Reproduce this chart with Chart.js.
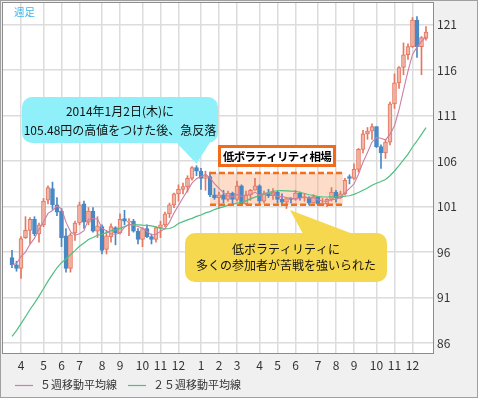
<!DOCTYPE html>
<html>
<head>
<meta charset="utf-8">
<script src="https://cdn.jsdelivr.net/npm/chart.js@4"></script>
<style>
html,body{margin:0;padding:0;background:#f0f0f0;}
</style>
</head>
<body>
<canvas id="cht" width="478" height="398"></canvas>
<script>
// weekly USD/JPY, week start dates (Mon)
const weeks=[
'2013-03-04','2013-03-11','2013-03-18','2013-03-25','2013-04-01','2013-04-08','2013-04-15','2013-04-22','2013-04-29','2013-05-06',
'2013-05-13','2013-05-20','2013-05-27','2013-06-03','2013-06-10','2013-06-17','2013-06-24','2013-07-01','2013-07-08','2013-07-15',
'2013-07-22','2013-07-29','2013-08-05','2013-08-12','2013-08-19','2013-08-26','2013-09-02','2013-09-09','2013-09-16','2013-09-23',
'2013-09-30','2013-10-07','2013-10-14','2013-10-21','2013-10-28','2013-11-04','2013-11-11','2013-11-18','2013-11-25','2013-12-02',
'2013-12-09','2013-12-16','2013-12-23','2013-12-30','2014-01-06','2014-01-13','2014-01-20','2014-01-27','2014-02-03','2014-02-10',
'2014-02-17','2014-02-24','2014-03-03','2014-03-10','2014-03-17','2014-03-24','2014-03-31','2014-04-07','2014-04-14','2014-04-21',
'2014-04-28','2014-05-05','2014-05-12','2014-05-19','2014-05-26','2014-06-02','2014-06-09','2014-06-16','2014-06-23','2014-06-30',
'2014-07-07','2014-07-14','2014-07-21','2014-07-28','2014-08-04','2014-08-11','2014-08-18','2014-08-25','2014-09-01','2014-09-08',
'2014-09-15','2014-09-22','2014-09-29','2014-10-06','2014-10-13','2014-10-20','2014-10-27','2014-11-03','2014-11-10','2014-11-17',
'2014-11-24','2014-12-01','2014-12-08','2014-12-15','2014-12-22','2014-12-29'];

const openV=[null,null,
95.4,94.6,94.2,97.6,98.4,99.6,98.0,99.0,101.7,103.0,
101.2,100.5,97.8,94.2,98.1,99.2,101.3,99.3,100.5,98.3,
98.8,96.3,97.7,98.7,98.1,99.7,99.3,99.4,98.3,97.4,
98.6,97.7,97.4,98.7,99.0,100.2,101.2,102.4,102.9,103.2,
104.1,105.3,104.9,104.1,104.3,102.3,102.0,102.3,101.8,102.5,
101.8,103.3,101.3,102.3,102.8,103.3,101.6,102.4,102.2,102.6,
101.8,101.5,101.9,101.8,102.5,102.0,102.0,101.4,102.1,101.25,
101.3,101.8,102.6,102.0,102.4,104.3,104.1,105.1,107.3,109.0,
109.3,109.8,107.6,106.9,108.1,112.3,114.6,116.3,117.7,118.6,
121.5,118.6,119.5,null];
const highV=[null,null,
96.2,95.0,97.7,99.9,99.8,99.9,99.2,101.9,103.3,103.7,
102.0,100.8,98.6,98.1,99.4,101.5,101.6,100.9,100.9,99.9,
99.0,98.4,99.1,98.8,100.2,100.6,99.7,99.6,98.6,98.7,
99.0,98.0,98.8,99.4,100.4,101.4,102.5,103.4,103.6,104.4,
105.4,105.5,105.2,104.9,104.8,103.0,102.6,102.8,102.7,102.6,
103.8,103.4,102.7,102.9,104.1,103.4,102.7,102.9,103.0,102.7,
102.4,101.9,102.0,102.8,102.6,102.4,102.1,102.3,102.1,101.9,
101.9,103.1,102.8,102.7,104.1,104.5,105.7,107.4,109.4,109.7,
110.1,109.8,107.8,108.4,112.5,115.6,116.4,119.0,118.9,121.8,
121.9,119.7,120.8,null];
const lowV=[null,null,
94.3,93.9,93.1,97.5,96.9,97.8,97.1,98.8,101.3,100.7,
100.0,96.6,93.8,93.8,97.3,99.0,98.6,99.0,98.2,97.6,
95.8,95.8,97.1,96.8,98.0,99.0,97.8,98.2,96.9,96.6,
97.6,96.9,97.1,97.6,98.8,99.8,100.9,101.6,102.4,102.6,
103.9,104.4,102.9,102.8,102.1,101.8,100.8,101.4,101.6,101.2,
101.6,101.2,101.2,101.7,102.8,101.3,101.4,102.0,101.8,101.4,
101.1,100.8,101.4,101.7,101.7,101.6,101.2,101.4,101.1,101.1,
101.0,101.6,101.5,101.9,102.3,103.5,104.0,104.8,106.9,108.4,
108.4,107.5,105.2,106.3,107.8,111.8,114.0,115.5,117.2,118.5,
117.4,115.5,119.3,null];
const closeV=[null,null,
94.6,94.2,97.5,98.4,99.6,98.0,99.0,101.6,103.1,101.2,
100.4,97.6,94.2,97.9,99.2,101.2,99.3,100.5,98.3,98.9,
96.2,97.8,98.8,98.1,99.6,99.4,99.4,98.3,97.4,98.6,
97.7,97.4,98.7,99.0,100.2,101.2,102.4,102.9,103.2,104.1,
105.3,104.9,104.1,104.3,102.3,102.0,102.3,101.8,102.5,101.8,
103.3,101.3,102.3,102.8,103.3,101.6,102.4,102.2,102.6,101.8,
101.5,101.9,101.8,102.5,102.0,102.0,101.4,102.1,101.3,101.3,
101.8,102.6,102.0,102.4,103.9,104.1,105.1,107.3,109.0,109.3,
109.8,107.6,106.9,108.1,112.3,114.6,116.3,117.7,118.6,121.5,
118.6,119.6,120.2,null];
const ma5=[null,null,
94.58,94.74,95.52,96.00,96.86,97.54,98.50,99.32,100.26,100.58,
101.06,100.78,99.30,98.26,97.86,98.02,98.36,99.62,99.70,99.64,
98.64,98.34,98.00,97.96,98.10,98.74,99.06,98.96,98.82,98.62,
98.28,97.88,97.96,98.28,98.60,99.30,100.30,101.14,101.98,102.76,
103.58,104.08,104.32,104.54,104.18,103.52,103.00,102.54,102.18,102.08,
102.34,102.14,102.24,102.30,102.60,102.26,102.48,102.46,102.42,102.12,
102.10,102.00,101.92,101.90,101.94,102.04,101.94,102.00,101.76,101.62,
101.58,101.82,101.80,102.02,102.54,103.00,103.50,104.56,105.88,106.96,
108.10,108.60,108.52,108.34,108.94,109.90,111.64,113.80,115.90,117.74,
118.54,119.18,119.68,null];
const ma25=[null,null,
86.75,87.37,88.14,88.90,89.69,90.39,91.17,91.98,92.81,93.56,
94.28,94.84,95.24,95.72,96.16,96.64,97.01,97.39,97.61,97.86,
97.97,98.14,98.35,98.44,98.61,98.80,99.01,99.04,99.00,98.96,
98.95,98.88,98.77,98.60,98.56,98.60,98.79,99.14,99.35,99.54,
99.71,99.93,100.08,100.32,100.45,100.68,100.86,100.98,101.16,101.25,
101.40,101.48,101.64,101.86,102.04,102.20,102.40,102.54,102.68,102.75,
102.76,102.74,102.70,102.67,102.58,102.45,102.31,102.23,102.11,102.07,
102.06,102.08,102.08,102.08,102.16,102.20,102.35,102.55,102.80,103.04,
103.36,103.57,103.76,103.98,104.40,104.92,105.50,106.14,106.78,107.56,
108.22,108.95,109.68,null];
const yTicks=[86,91,96,101,106,111,116,121];
const seriesNames=['５週移動平均線','２５週移動平均線'];

// low volatility band: first/last week and price range
const bandWeeks=['2014-01-20','2014-08-11'];
const bandRange=[101.2,104.7];
const peakWeek='2013-12-30';

const UP='#e5775f', DOWN='#4a88c4', MA5C='#cc7fa3', MA25C='#4fbf80';
const FONT='"Noto Sans CJK JP", "Noto Sans", sans-serif';

const idx=weeks.map((w,i)=>i).filter(i=>openV[i]!==null);
const monthTicks=weeks.map((w,i)=>i).filter(i=>i>0&&weeks[i].slice(5,7)!==weeks[i-1].slice(5,7));
const isUp=i=>i!==undefined&&closeV[i]>=openV[i];

function bubble(ctx,x,y,w,h,r,tail,color){
  ctx.fillStyle=color;
  ctx.beginPath();
  ctx.roundRect(x,y,w,h,r);
  ctx.fill();
  ctx.beginPath();
  ctx.moveTo(tail[0][0],tail[0][1]);
  ctx.lineTo(tail[1][0],tail[1][1]);
  ctx.lineTo(tail[2][0],tail[2][1]);
  ctx.closePath();
  ctx.fill();
}

const frame={
  id:'frame',
  beforeDraw(chart){
    const {ctx,width,height,chartArea:a}=chart;
    ctx.save();
    ctx.fillStyle='#f0f0f0';
    ctx.fillRect(0,0,width,height);
    ctx.fillStyle='#ffffff';
    ctx.fillRect(a.left,a.top,a.right-a.left,a.bottom-a.top);
    ctx.restore();
  },
  beforeDatasetsDraw(chart){
    const {ctx,scales:{x,y}}=chart;
    const x1=x.getPixelForValue(weeks.indexOf(bandWeeks[0]));
    const x2=x.getPixelForValue(weeks.indexOf(bandWeeks[1])+0.5);
    const y1=y.getPixelForValue(bandRange[1]), y2=y.getPixelForValue(bandRange[0]);
    ctx.save();
    ctx.fillStyle='rgba(250,170,120,0.4)';
    ctx.fillRect(x1,y1,x2-x1,y2-y1);
    ctx.restore();
  },
  afterDatasetsDraw(chart){
    const {ctx,scales:{x,y}}=chart;
    const x1=x.getPixelForValue(weeks.indexOf(bandWeeks[0]));
    const x2=x.getPixelForValue(weeks.indexOf(bandWeeks[1])+0.5);
    const y1=y.getPixelForValue(bandRange[1]), y2=y.getPixelForValue(bandRange[0]);
    ctx.save();
    ctx.strokeStyle='#f07020';
    ctx.lineWidth=2.5;
    ctx.setLineDash([6,3]);
    ctx.beginPath();
    ctx.moveTo(x1,y1);ctx.lineTo(x2,y1);
    ctx.moveTo(x1,y2);ctx.lineTo(x2,y2);
    ctx.stroke();
    ctx.setLineDash([]);

    // label box
    ctx.fillStyle='#ffffff';
    ctx.fillRect(219,146,115,19);
    ctx.strokeStyle='#f26b1d';
    ctx.lineWidth=3;
    ctx.strokeRect(219.5,146.5,115,19);
    ctx.fillStyle='#000';
    ctx.font='bold 11.5px '+FONT;
    ctx.textAlign='center';
    ctx.textBaseline='middle';
    ctx.letterSpacing='-0.7px';
    ctx.fillText('低ボラティリティ相場',277,156.5);
    ctx.letterSpacing='0px';

    // cyan callout pointing at the Jan high
    const pi=weeks.indexOf(peakWeek);
    const tx=x.getPixelForValue(pi), ty=y.getPixelForValue(highV[pi])-2;
    bubble(ctx,22,97,196,46,10,[[176,142],[tx,ty],[214,136]],'#8ff0f9');
    ctx.fillStyle='#111';
    ctx.font='12px '+FONT;
    ctx.fillText('2014年1月2日(木)に',120,111);
    ctx.fillText('105.48円の高値をつけた後、急反落',120,130);

    // yellow callout
    bubble(ctx,185,233,202,49,10,[[303,234],[290,210],[353,234]],'#f6d84e');
    ctx.fillStyle='#111';
    ctx.fillText('低ボラティリティに',286,249);
    ctx.fillText('多くの参加者が苦戦を強いられた',286,265);

    ctx.textAlign='left';
    ctx.fillStyle='#3ab7ea';
    ctx.font='10.5px '+FONT;
    ctx.fillText('週足',14,12);
    ctx.restore();
  },
  afterDraw(chart){
    const {ctx,width,height,chartArea:a}=chart;
    ctx.save();
    ctx.strokeStyle='#8c8c8c';
    ctx.lineWidth=1;
    ctx.strokeRect(a.left+0.5,a.top+0.5,a.right-a.left-1,a.bottom-a.top-1);
    ctx.strokeStyle='#a0a0a0';
    ctx.strokeRect(0.5,0.5,width-1,height-1);
    // legend
    const items=[[15,MA5C],[128,MA25C]];
    ctx.font='11px '+FONT;
    ctx.textBaseline='middle';
    ctx.textAlign='left';
    items.forEach((it,k)=>{
      ctx.strokeStyle=it[1];
      ctx.lineWidth=1.2;
      ctx.beginPath();
      ctx.moveTo(it[0],385.5);ctx.lineTo(it[0]+18,385.5);
      ctx.stroke();
      ctx.fillStyle='#333';
      ctx.fillText(seriesNames[k],it[0]+25,385);
    });
    ctx.restore();
  }
};

new Chart('cht',{
  type:'bar',
  data:{
    datasets:[
      {type:'line',label:seriesNames[0],data:idx.map(i=>({x:i,y:ma5[i]})),borderColor:MA5C,borderWidth:1.1,pointRadius:0,order:0},
      {type:'line',label:seriesNames[1],data:idx.map(i=>({x:i,y:ma25[i]})),borderColor:MA25C,borderWidth:1.2,pointRadius:0,order:0},
      {label:'body',data:idx.map(i=>({x:i,y:[openV[i],closeV[i]]})),
        backgroundColor:c=>isUp(idx[c.dataIndex])?'rgba(255,255,255,0.4)':DOWN,
        borderColor:c=>isUp(idx[c.dataIndex])?UP:DOWN,
        borderWidth:1,borderSkipped:false,barThickness:4,grouped:false,minBarLength:1,order:1},
      {label:'wick',data:idx.map(i=>({x:i,y:[lowV[i],highV[i]]})),
        backgroundColor:c=>isUp(idx[c.dataIndex])?UP:DOWN,
        barThickness:1,grouped:false,order:2}
    ]
  },
  options:{
    responsive:false,
    animation:false,
    layout:{padding:{left:2,top:2,right:2,bottom:22}},
    plugins:{legend:{display:false},tooltip:{enabled:false}},
    scales:{
      x:{
        type:'linear',min:-0.22,max:95.78,offset:false,
        afterBuildTicks:a=>{a.ticks=monthTicks.map(v=>({value:v}));},
        afterFit:a=>{a.height=22;a.paddingLeft=0;a.paddingRight=0;},
        grid:{color:'#dcdcdc',lineWidth:1.5,drawTicks:false,offset:false},
        border:{display:false},
        ticks:{autoSkip:false,maxRotation:0,padding:4,color:'#333',font:{family:FONT,size:12},
          callback:v=>String(+weeks[v].slice(5,7))}
      },
      y:{
        type:'linear',position:'right',min:84.8,max:123.5,
        afterBuildTicks:a=>{a.ticks=yTicks.map(v=>({value:v}));},
        afterFit:a=>{a.width=42;a.paddingTop=0;a.paddingBottom=0;},
        grid:{color:'#dcdcdc',lineWidth:1.5,drawTicks:false},
        border:{display:false},
        ticks:{padding:3,color:'#333',font:{family:FONT,size:12},callback:v=>v}
      }
    }
  },
  plugins:[frame]
});
</script>
</body>
</html>
